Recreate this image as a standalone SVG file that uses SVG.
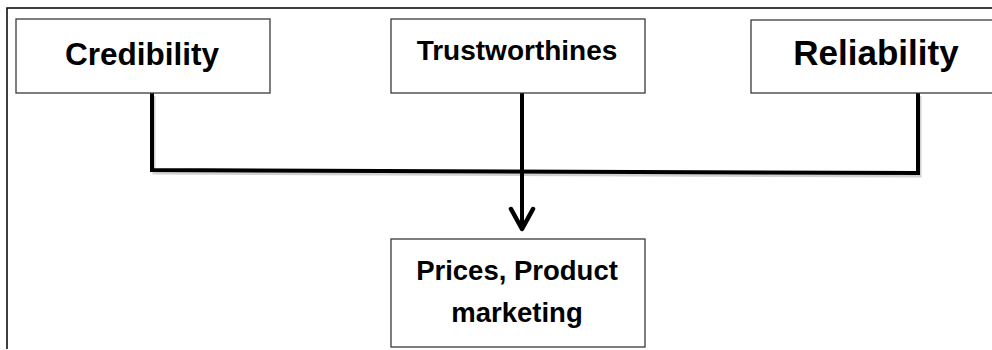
<svg xmlns="http://www.w3.org/2000/svg" width="992" height="350" viewBox="0 0 992 350">
  <defs>
    <style>
      .box { fill: #ffffff; stroke: #3a3a3a; stroke-width: 1.3; }
      .label { font-family: "Liberation Sans", Arial, sans-serif; font-weight: bold; fill: #000000; text-anchor: middle; }
      .wire { fill: none; stroke: #000000; stroke-width: 4; stroke-linejoin: miter; }
      .shade { fill: none; stroke: #9a9a9a; stroke-width: 3; opacity: 0.45; }
      .frame { fill: none; stroke: #000000; stroke-width: 1.5; }
      .head { fill: none; stroke: #000000; stroke-width: 4.5; stroke-linecap: round; stroke-linejoin: round; }
    </style>
  </defs>

  <rect width="992" height="350" fill="#ffffff"/>

  <!-- outer frame: top and left edges only -->
  <path class="frame" d="M7 349 V8 H992"/>

  <!-- connectors -->
  <g id="connectors">
    <path class="shade" d="M154 96 V173 L920 176 V96"/>
    <path class="wire" d="M152 93 V170 L918 173 V93"/>
    <path class="wire" d="M522 93 V228"/>
    <path class="head" d="M511 209 L522 229 L533 209"/>
  </g>

  <g id="node-credibility">
    <rect class="box" x="16" y="19" width="254" height="74"/>
    <text class="label" x="142" y="65" font-size="31.5">Credibility</text>
  </g>

  <g id="node-trustworthines">
    <rect class="box" x="391" y="19" width="254" height="74"/>
    <text class="label" x="517" y="60" font-size="28">Trustworthines</text>
  </g>

  <g id="node-reliability">
    <rect class="box" x="751" y="20" width="260" height="73"/>
    <text class="label" x="876" y="65" font-size="35">Reliability</text>
  </g>

  <g id="node-prices">
    <rect class="box" x="391" y="239" width="254" height="108"/>
    <text class="label" x="517" y="280" font-size="27.5">Prices, Product</text>
    <text class="label" x="517" y="322" font-size="27.5">marketing</text>
  </g>
</svg>
